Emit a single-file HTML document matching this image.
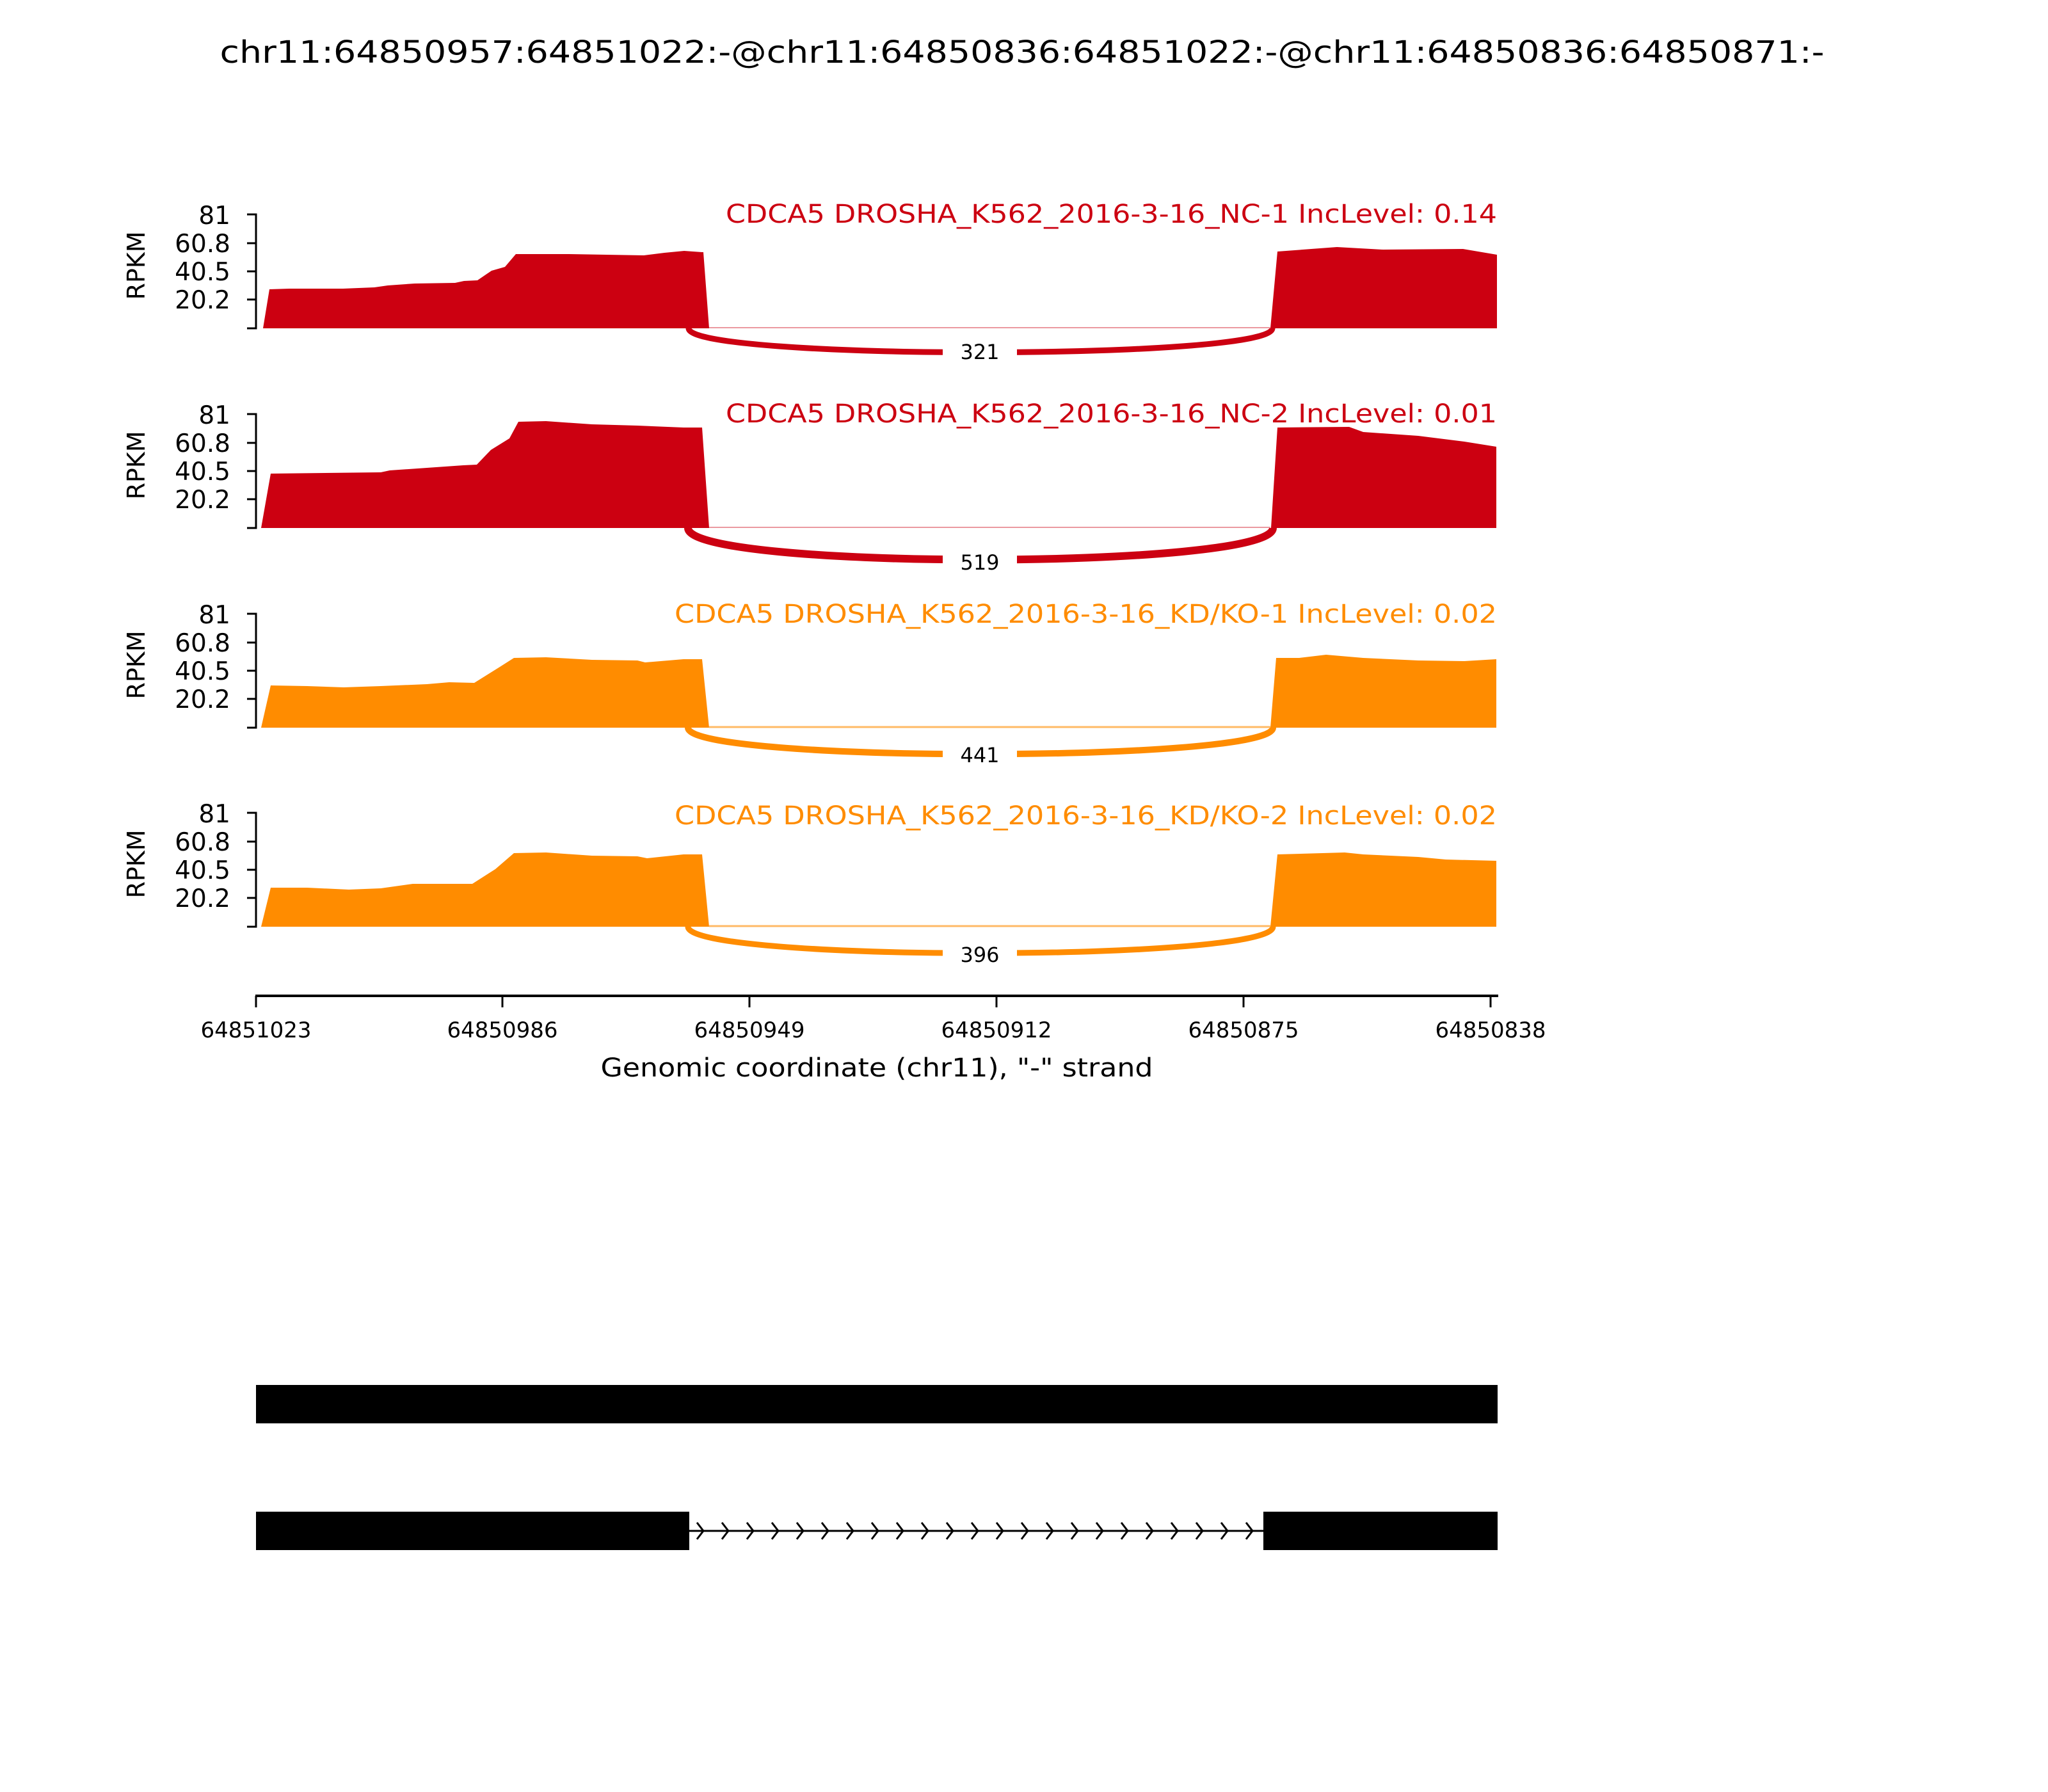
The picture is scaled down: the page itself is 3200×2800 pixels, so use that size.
<!DOCTYPE html>
<html><head><style>html,body{margin:0;padding:0;background:#fff}svg{display:block}</style></head>
<body>
<svg xmlns="http://www.w3.org/2000/svg" width="3200" height="2800" viewBox="0 0 3200 2800" font-family="'DejaVu Sans','Liberation Sans',sans-serif">
<rect width="3200" height="2800" fill="#fff"/>
<text x="1597" y="98" font-size="48" text-anchor="middle" textLength="2507" lengthAdjust="spacingAndGlyphs">chr11:64850957:64851022:-@chr11:64850836:64851022:-@chr11:64850836:64850871:-</text>

<!-- Panel 1 -->
<g>
<polygon fill="#CC0011" points="411,513 421,452 452,451 536,451 585,449 606,446 648,443 711,442 725,439 746,438 768,423 789,417 806,397 887,397 1006,399 1038,395 1069,392 1097,394 1099,394 1108,513"/>
<polygon fill="#CC0011" points="1985,513 1996,393 2089,386 2161,390 2286,389 2339,398 2339,513"/>
<line x1="1108" y1="512" x2="1985" y2="512" stroke="#CC0011" stroke-opacity="0.4" stroke-width="2"/>
<path d="M1076,513 C1076,563 1988,563 1988,513" fill="none" stroke="#CC0011" stroke-width="9"/>
<rect x="1473" y="530" width="116" height="40" fill="#fff"/>
<text x="1531" y="561" font-size="32" text-anchor="middle">321</text>
<text x="2339" y="348" font-size="40" fill="#CC0011" text-anchor="end" textLength="1205" lengthAdjust="spacingAndGlyphs">CDCA5 DROSHA_K562_2016-3-16_NC-1 IncLevel: 0.14</text>
</g>
<!-- Panel 2 -->
<g>
<polygon fill="#CC0011" points="408,825 423,740 595,738 609,735 724,727 745,726 767,703 796,685 810,659 853,658 925,663 996,665 1068,668 1097,668 1108,825"/>
<polygon fill="#CC0011" points="1986,825 1996,668 2108,667 2130,675 2216,681 2288,690 2338,698 2338,825"/>
<line x1="1108" y1="824" x2="1985" y2="824" stroke="#CC0011" stroke-opacity="0.4" stroke-width="2"/>
<path d="M1075,825 C1075,891 1989,891 1989,825" fill="none" stroke="#CC0011" stroke-width="12"/>
<rect x="1473" y="845" width="116" height="42" fill="#fff"/>
<text x="1531" y="890" font-size="32" text-anchor="middle">519</text>
<text x="2339" y="660" font-size="40" fill="#CC0011" text-anchor="end" textLength="1205" lengthAdjust="spacingAndGlyphs">CDCA5 DROSHA_K562_2016-3-16_NC-2 IncLevel: 0.01</text>
</g>
<!-- Panel 3 -->
<g>
<polygon fill="#FF8C00" points="408,1137 423,1071 480,1072 537,1074 595,1072 667,1069 702,1066 741,1067 781,1042 803,1028 853,1027 925,1031 996,1032 1008,1035 1068,1030 1097,1030 1108,1137"/>
<polygon fill="#FF8C00" points="1985,1137 1994,1028 2030,1028 2072,1023 2130,1028 2216,1032 2288,1033 2338,1030 2338,1137"/>
<line x1="1108" y1="1136" x2="1985" y2="1136" stroke="#FF8C00" stroke-opacity="0.6" stroke-width="3"/>
<path d="M1075,1137 C1075,1192 1989,1192 1989,1137" fill="none" stroke="#FF8C00" stroke-width="10"/>
<rect x="1473" y="1150" width="116" height="40" fill="#fff"/>
<text x="1531" y="1191" font-size="32" text-anchor="middle">441</text>
<text x="2339" y="973" font-size="40" fill="#FF8C00" text-anchor="end" textLength="1285" lengthAdjust="spacingAndGlyphs">CDCA5 DROSHA_K562_2016-3-16_KD/KO-1 IncLevel: 0.02</text>
</g>
<!-- Panel 4 -->
<g>
<polygon fill="#FF8C00" points="408,1448 423,1387 480,1387 545,1390 595,1388 645,1381 738,1381 774,1358 803,1333 853,1332 925,1337 996,1338 1011,1341 1068,1335 1097,1335 1108,1448"/>
<polygon fill="#FF8C00" points="1985,1448 1996,1335 2101,1332 2130,1335 2216,1339 2259,1343 2338,1345 2338,1448"/>
<line x1="1108" y1="1447" x2="1985" y2="1447" stroke="#FF8C00" stroke-opacity="0.6" stroke-width="3"/>
<path d="M1075,1448 C1075,1503 1989,1503 1989,1448" fill="none" stroke="#FF8C00" stroke-width="9"/>
<rect x="1473" y="1462" width="116" height="40" fill="#fff"/>
<text x="1531" y="1503" font-size="32" text-anchor="middle">396</text>
<text x="2339" y="1288" font-size="40" fill="#FF8C00" text-anchor="end" textLength="1285" lengthAdjust="spacingAndGlyphs">CDCA5 DROSHA_K562_2016-3-16_KD/KO-2 IncLevel: 0.02</text>
</g>

<!-- y axes -->
<g stroke="#000" stroke-width="3" fill="none">
<path d="M386,335 H400 V513 H386 M386,380 H400 M386,424 H400 M386,468 H400"/>
<path d="M386,647 H400 V825 H386 M386,692 H400 M386,736 H400 M386,780 H400"/>
<path d="M386,959 H400 V1137 H386 M386,1004 H400 M386,1048 H400 M386,1092 H400"/>
<path d="M386,1270 H400 V1448 H386 M386,1315 H400 M386,1359 H400 M386,1403 H400"/>
</g>
<g font-size="39" text-anchor="end">
<text x="360" y="350">81</text><text x="360" y="394">60.8</text><text x="360" y="438">40.5</text><text x="360" y="482">20.2</text>
<text x="360" y="662">81</text><text x="360" y="706">60.8</text><text x="360" y="750">40.5</text><text x="360" y="794">20.2</text>
<text x="360" y="974">81</text><text x="360" y="1018">60.8</text><text x="360" y="1062">40.5</text><text x="360" y="1106">20.2</text>
<text x="360" y="1285">81</text><text x="360" y="1329">60.8</text><text x="360" y="1373">40.5</text><text x="360" y="1417">20.2</text>
</g>
<g font-size="38" text-anchor="middle">
<text transform="translate(226,415) rotate(-90)">RPKM</text>
<text transform="translate(226,727) rotate(-90)">RPKM</text>
<text transform="translate(226,1039) rotate(-90)">RPKM</text>
<text transform="translate(226,1350) rotate(-90)">RPKM</text>
</g>

<!-- x axis -->
<g stroke="#000" fill="none">
<line x1="399" y1="1556" x2="2341" y2="1556" stroke-width="4"/>
<path d="M400,1556 V1574 M785,1556 V1574 M1171,1556 V1574 M1557,1556 V1574 M1943,1556 V1574 M2329,1556 V1574" stroke-width="3"/>
</g>
<g font-size="34" text-anchor="middle">
<text x="400" y="1621">64851023</text><text x="785" y="1621">64850986</text><text x="1171" y="1621">64850949</text>
<text x="1557" y="1621">64850912</text><text x="1943" y="1621">64850875</text><text x="2329" y="1621">64850838</text>
</g>
<text x="1370" y="1682" font-size="40" text-anchor="middle" textLength="863" lengthAdjust="spacingAndGlyphs">Genomic coordinate (chr11), "-" strand</text>

<!-- gene model -->
<rect x="400" y="2164" width="1940" height="60" fill="#000"/>
<rect x="400" y="2362" width="677" height="60" fill="#000"/>
<rect x="1974" y="2362" width="366" height="60" fill="#000"/>
<line x1="1077" y1="2392" x2="1974" y2="2392" stroke="#000" stroke-width="3"/>
<path fill="none" stroke="#000" stroke-width="3" d="M1089,2379 l10,13 l-10,13 M1128,2379 l10,13 l-10,13 M1167,2379 l10,13 l-10,13 M1206,2379 l10,13 l-10,13 M1245,2379 l10,13 l-10,13 M1284,2379 l10,13 l-10,13 M1323,2379 l10,13 l-10,13 M1362,2379 l10,13 l-10,13 M1401,2379 l10,13 l-10,13 M1440,2379 l10,13 l-10,13 M1479,2379 l10,13 l-10,13 M1518,2379 l10,13 l-10,13 M1557,2379 l10,13 l-10,13 M1596,2379 l10,13 l-10,13 M1635,2379 l10,13 l-10,13 M1674,2379 l10,13 l-10,13 M1713,2379 l10,13 l-10,13 M1752,2379 l10,13 l-10,13 M1791,2379 l10,13 l-10,13 M1830,2379 l10,13 l-10,13 M1869,2379 l10,13 l-10,13 M1908,2379 l10,13 l-10,13 M1947,2379 l10,13 l-10,13"/>
</svg>
</body></html>
